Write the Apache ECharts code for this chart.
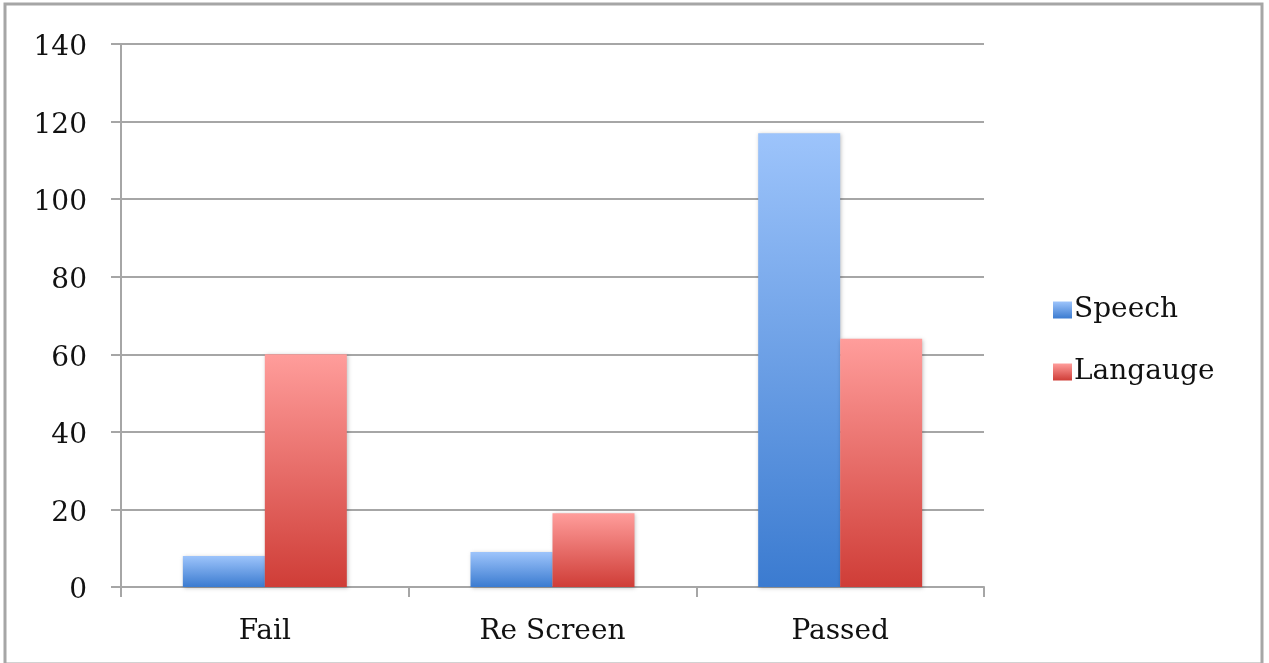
<!DOCTYPE html>
<html>
<head>
<meta charset="utf-8">
<script src="https://cdn.jsdelivr.net/npm/echarts@6/dist/echarts.min.js"></script>
<style>html,body{margin:0;padding:0;background:#fff;}#c{width:1269px;height:663px;}</style>
</head>
<body>
<div id="c"></div>
<script>
var categories = ['Fail', 'Re Screen', 'Passed'];
var speech = [8, 9, 117];
var langauge = [60, 19, 64];
var yTicks = [0, 20, 40, 60, 80, 100, 120, 140];

var chart = echarts.init(document.getElementById('c'));
var font = 'DejaVu Serif';
var textColor = '#111';
function grad(top, bottom) {
  return new echarts.graphic.LinearGradient(0, 0, 0, 1, [
    {offset: 0, color: top}, {offset: 1, color: bottom}
  ]);
}
var gray = '#a6a6a6';
chart.setOption({
  animation: false,
  backgroundColor: '#fff',
  graphic: [{
    type: 'rect', shape: {x: 5, y: 4, width: 1257, height: 660},
    style: {fill: 'none', stroke: gray, lineWidth: 3}, silent: true
  }],
  grid: {left: 121, right: 285, top: 44, bottom: 76},
  legend: {
    orient: 'vertical', left: 1048, top: 288,
    itemWidth: 19, itemHeight: 17, itemGap: 28, icon: 'rect',
    textStyle: {fontFamily: font, fontSize: 28, color: textColor, lineHeight: 34, padding: [0, 0, 0, -3]},
    data: ['Speech', 'Langauge']
  },
  xAxis: {
    type: 'category', data: categories,
    axisLine: {lineStyle: {color: gray, width: 2}},
    axisTick: {show: true, length: 10, lineStyle: {color: gray, width: 2}},
    axisLabel: {fontFamily: font, fontSize: 28, color: textColor, margin: 31}
  },
  yAxis: {
    type: 'value', min: 0, max: 140, interval: 20,
    axisLine: {show: true, lineStyle: {color: gray, width: 2}},
    axisTick: {show: true, length: 10, lineStyle: {color: gray, width: 2}},
    splitLine: {lineStyle: {color: gray, width: 2}},
    axisLabel: {fontFamily: font, fontSize: 28, color: textColor, margin: 34,
      rich: {v: {fontFamily: font, fontSize: 28, color: textColor, padding: [8, 0, 0, 0]}},
      formatter: function (v) { return yTicks.indexOf(v) >= 0 ? '{v|' + v + '}' : ''; }}
  },
  series: [{
    name: 'Speech', type: 'bar', data: speech,
    barGap: '0%', barCategoryGap: '43%',
    itemStyle: {color: grad('#9dc4fb', '#3b7bd0'), shadowBlur: 4, shadowColor: 'rgba(0,0,0,0.25)', shadowOffsetX: 1, shadowOffsetY: 1}
  }, {
    name: 'Langauge', type: 'bar', data: langauge,
    barGap: '0%', barCategoryGap: '43%',
    itemStyle: {color: grad('#ff9d9b', '#cf3d37'), shadowBlur: 4, shadowColor: 'rgba(0,0,0,0.25)', shadowOffsetX: 1, shadowOffsetY: 1}
  }]
});
</script>
</body>
</html>
